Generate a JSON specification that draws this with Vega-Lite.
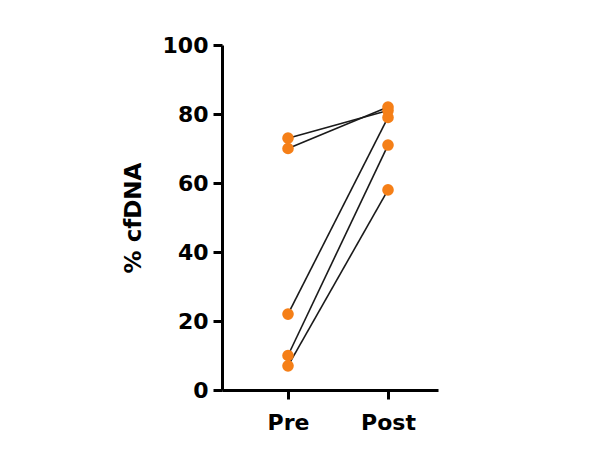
{
  "$schema": "https://vega.github.io/schema/vega-lite/v6.json",
  "width": 216,
  "height": 345,
  "autosize": "none",
  "padding": {"left": 222, "top": 45, "right": 171, "bottom": 75},
  "background": "white",
  "data": {
    "values": [
      {"id": "A", "time": "Pre", "value": 73},
      {"id": "A", "time": "Post", "value": 81},
      {"id": "B", "time": "Pre", "value": 70},
      {"id": "B", "time": "Post", "value": 82},
      {"id": "C", "time": "Pre", "value": 22},
      {"id": "C", "time": "Post", "value": 79},
      {"id": "D", "time": "Pre", "value": 10},
      {"id": "D", "time": "Post", "value": 71},
      {"id": "E", "time": "Pre", "value": 7},
      {"id": "E", "time": "Post", "value": 58}
    ]
  },
  "encoding": {
    "x": {
      "field": "time",
      "type": "nominal",
      "sort": ["Pre", "Post"],
      "scale": {"type": "point", "padding": 0.58, "align": 0.569},
      "axis": {
        "title": null,
        "labelAngle": 0,
        "labelFont": "DejaVu Sans",
        "labelFontWeight": "bold",
        "labelFontSize": 22,
        "labelColor": "black",
        "labelPadding": 13,
        "domainColor": "black",
        "domainWidth": 3,
        "tickColor": "black",
        "tickWidth": 3,
        "tickSize": 9,
        "grid": false
      }
    },
    "y": {
      "field": "value",
      "type": "quantitative",
      "scale": {"domain": [0, 100], "nice": false},
      "axis": {
        "title": "% cfDNA",
        "values": [0, 20, 40, 60, 80, 100],
        "titleFont": "DejaVu Sans",
        "titleFontWeight": "bold",
        "titleFontSize": 23,
        "titleColor": "black",
        "titlePadding": 17,
        "labelFont": "DejaVu Sans",
        "labelFontWeight": "bold",
        "labelFontSize": 22,
        "labelColor": "black",
        "labelPadding": 5,
        "labelFlush": false,
        "domainColor": "black",
        "domainWidth": 3,
        "tickColor": "black",
        "tickWidth": 3,
        "tickSize": 9,
        "grid": false
      }
    }
  },
  "layer": [
    {
      "mark": {"type": "line", "color": "#1a1a1a", "strokeWidth": 1.6},
      "encoding": {"detail": {"field": "id"}}
    },
    {
      "mark": {"type": "point", "filled": true, "shape": "circle", "size": 135, "color": "#F57F17", "opacity": 1}
    }
  ],
  "config": {"view": {"stroke": null}}
}
